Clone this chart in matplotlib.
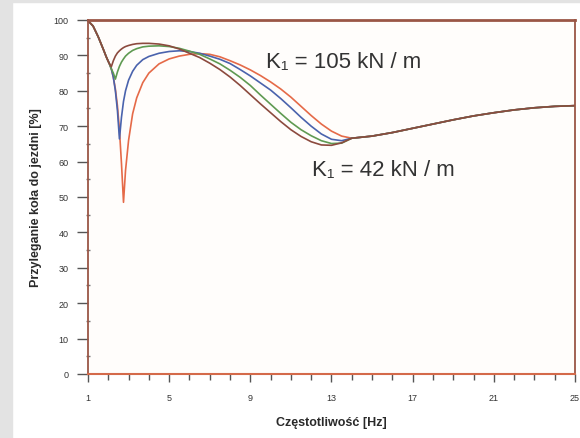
import matplotlib
matplotlib.use("Agg")
import matplotlib.pyplot as plt
from matplotlib.patches import Rectangle
from matplotlib.ticker import MultipleLocator

plt.rcParams['font.family'] = ['Liberation Sans', 'DejaVu Sans']

# Frequency grid [Hz]
freq = [1.0, 1.25, 1.5, 1.75, 1.9, 2.0, 2.05,
        2.15, 2.25, 2.35, 2.45, 2.55, 2.65, 2.75, 2.85,
        3.0, 3.2, 3.4, 3.7, 4.0, 4.5, 5.0, 5.5, 6.0, 6.5,
        7.0, 7.5, 8.0, 8.5, 9.0, 9.5, 10.0, 10.5, 11.0, 11.5,
        12.0, 12.5, 13.0, 13.5,
        14.0, 15.0, 16.0, 17.0, 18.0, 19.0, 20.0, 21.0, 22.0, 23.0, 24.0, 25.0]

# shared start and shared tail of all curves [%]
start = [99.8, 98.3, 95.3, 91.8, 89.6, 88.3, 87.7]
tail = [66.6, 67.2, 68.2, 69.4, 70.6, 71.8, 72.9, 73.8, 74.6, 75.2, 75.6, 75.8]

# middle part, one per suspension stiffness K1
mid_42 = [86.2, 83.8, 80.5, 75.8, 69.0, 59.5, 48.5, 57.5,
          66.0, 73.5, 78.0, 82.3, 85.0, 87.6, 89.0, 89.8, 90.3, 90.5,
          90.3, 89.6, 88.5, 87.3, 85.9, 84.3, 82.5, 80.5, 78.2, 75.6,
          73.0, 70.6, 68.6, 67.2]
mid_63 = [86.2, 83.8, 80.0, 74.5, 66.4, 72.5, 77.0, 80.0,
          83.0, 85.5, 87.2, 88.8, 89.7, 90.6, 91.1, 91.3, 91.1, 90.6,
          89.8, 88.9, 87.7, 86.0, 84.2, 82.2, 80.2, 77.8, 75.2, 72.5,
          70.0, 67.8, 66.3, 65.9]
mid_84 = [86.2, 85.0, 83.3, 85.3, 86.9, 88.1, 89.0, 89.8,
          90.6, 91.4, 91.9, 92.4, 92.6, 92.7, 92.5, 92.0, 91.2, 90.3,
          89.0, 87.6, 85.8, 83.8, 81.5, 78.8, 76.2, 73.6, 71.1, 69.0,
          67.3, 65.9, 65.1, 65.2]
mid_105 = [86.8, 88.5, 89.8, 90.7, 91.3, 91.8, 92.2, 92.5,
           92.8, 93.1, 93.3, 93.4, 93.4, 93.2, 92.7, 91.8, 90.6, 89.4,
           87.8, 86.0, 83.9, 81.5, 78.9, 76.3, 73.8, 71.3, 69.0, 67.1,
           65.6, 64.7, 64.6, 65.3]

series = [mid_42, mid_63, mid_84, mid_105]
colors = ['#e56a48', '#4a63ad', '#5f9a52', '#8c4a3e']

fig = plt.figure(figsize=(5.8, 4.39), dpi=100)
fig.patch.set_facecolor('white')
# grey frame strips
fig.patches.append(Rectangle((0, 0), 0.02, 1, transform=fig.transFigure,
                             color='#e3e3e3', zorder=0))
fig.patches.append(Rectangle((0, 0.993), 1, 0.007, transform=fig.transFigure,
                             color='#e3e3e3', zorder=0))

ax = fig.add_axes([0.1517, 0.1458, 0.8397, 0.8064])
ax.set_facecolor('#fffdfb')

for mid, c in zip(series, colors):
    ax.plot(freq, start + mid + tail, color=c, linewidth=1.2)

ax.set_xlim(1, 25)
ax.set_ylim(0, 100)

for side in ['left', 'right', 'top', 'bottom']:
    ax.spines[side].set_color('#9a5646')
ax.spines['top'].set_linewidth(2)
ax.spines['left'].set_linewidth(1.3)
ax.spines['right'].set_linewidth(1.3)
ax.spines['bottom'].set_linewidth(1.5)
ax.spines['bottom'].set_color('#d46a4a')

ax.set_xticks(range(1, 26, 4))
ax.xaxis.set_minor_locator(MultipleLocator(1))
ax.yaxis.set_major_locator(MultipleLocator(10))
ax.yaxis.set_minor_locator(MultipleLocator(5))

ax.tick_params(axis='x', which='major', direction='out', length=6, width=1,
               color='#555555', labelsize=6.5, labelcolor='#333333', pad=8)
ax.tick_params(axis='x', which='minor', direction='out', length=4, width=1,
               color='#555555')
ax.tick_params(axis='y', which='major', direction='out', length=8, width=1,
               color='#555555', labelsize=6.5, labelcolor='#333333', pad=6)
ax.tick_params(axis='y', which='minor', direction='inout', length=3, width=1,
               color='#777777')

ax.set_xlabel('Częstotliwość [Hz]', fontsize=9, fontweight='bold',
              color='#2a2a2a', labelpad=10)
ax.set_ylabel('Przyleganie koła do jezdni [%]', fontsize=9, fontweight='bold',
              color='#2a2a2a', labelpad=8)

ax.text(9.77, 88.4, 'K\u2081 = 105 kN / m', fontsize=16, color='#333333',
        va='center', ha='left')
ax.text(12.04, 57.9, 'K\u2081 = 42 kN / m', fontsize=16, color='#333333',
        va='center', ha='left')

fig.savefig('out.png', dpi=100)
